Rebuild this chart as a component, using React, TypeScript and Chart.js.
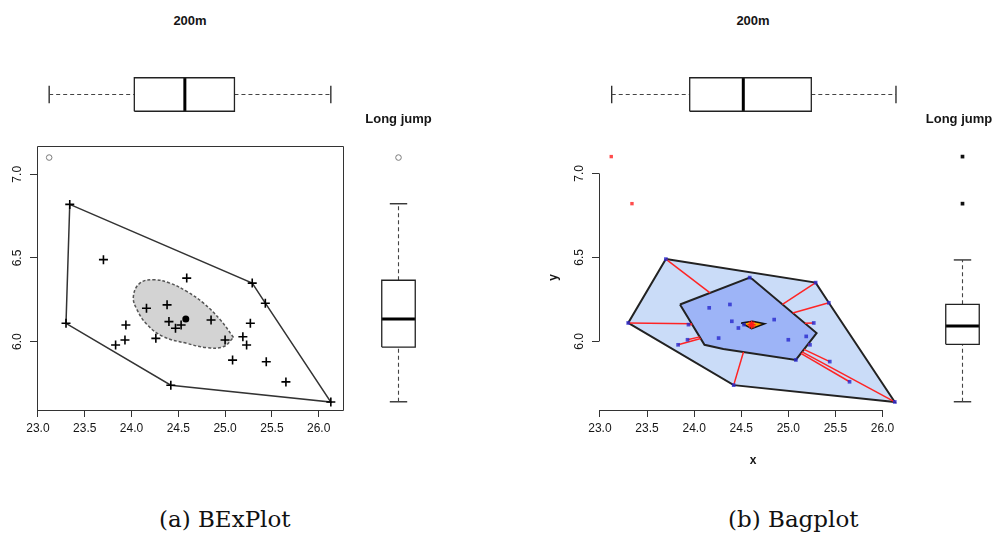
import React, { useEffect, useRef } from 'react';
import { Chart, registerables } from 'chart.js';

Chart.register(...registerables);
Chart.defaults.font.family = "'Liberation Sans', Arial, sans-serif";

// ---------------- data ----------------
const TIME_200M = [23.12, 23.30, 23.34, 23.70, 23.83, 23.93, 23.94, 24.16, 24.26, 24.38, 24.40, 24.42, 24.47, 24.53, 24.59, 24.85, 25.00, 25.08, 25.19, 25.23, 25.27, 25.29, 25.43, 25.44, 25.65, 26.13];
const LONG_JUMP = [7.10, 6.11, 6.82, 6.49, 5.98, 6.01, 6.10, 6.20, 6.02, 6.22, 6.12, 5.74, 6.08, 6.10, 6.38, 6.13, 6.01, 5.89, 6.03, 5.98, 6.11, 6.35, 6.23, 5.88, 5.76, 5.64];

const X_TICKS = [23.0, 23.5, 24.0, 24.5, 25.0, 25.5, 26.0];
const Y_TICKS = [6.0, 6.5, 7.0];
const X_LIMITS = [22.99, 26.26];
const Y_LIMITS = [5.592, 7.169];

// (a) BExPlot
const BEX_OUTLIER_IDX = [0];
const BEX_FENCE_X = [23.34, 25.29, 25.43, 26.13, 24.42, 23.30, 23.34];
const BEX_FENCE_Y = [6.82, 6.35, 6.23, 5.64, 5.74, 6.11, 6.82];
const BEX_BAG_X = [25.09, 24.95, 24.77, 24.59, 24.41, 24.24, 24.09, 24.02, 24.06, 24.17, 24.34, 24.59, 24.80, 24.98, 25.09];
const BEX_BAG_Y = [6.025, 6.13, 6.23, 6.30, 6.35, 6.37, 6.35, 6.27, 6.19, 6.10, 6.03, 5.99, 5.965, 5.97, 6.025];
const BEX_CENTER = [24.58, 6.135];
const BEX_BOX_200M = [23.12, 24.03, 24.57, 25.10, 26.13]; // min, q1, median, q3, max
const BEX_BOX_LJ = [5.641, 5.968, 6.136, 6.367, 6.824];
const BEX_LJ_OUTLIERS = [7.10];

// (b) Bagplot
const BAG_OUTLIER_IDX = [0, 2];
const BAG_LOOP_X = [23.70, 25.29, 25.43, 26.13, 24.42, 23.30, 23.70];
const BAG_LOOP_Y = [6.49, 6.35, 6.23, 5.64, 5.74, 6.11, 6.49];
const BAG_BAG_X = [23.85, 24.59, 24.62, 25.30, 25.08, 24.31, 24.11, 23.85];
const BAG_BAG_Y = [6.22, 6.38, 6.37, 6.05, 5.89, 5.955, 5.98, 6.22];
const BAG_CORE_X = [24.50, 24.62, 24.75, 24.61, 24.50];
const BAG_CORE_Y = [6.11, 6.12, 6.105, 6.076, 6.11];
const BAG_CENTER = [24.61, 6.10];
const BAG_BOX_200M = [23.125, 23.953, 24.522, 25.244, 26.143];
const BAG_BOX_LJ = [5.641, 5.983, 6.092, 6.221, 6.485];
const BAG_LJ_OUTLIERS = [7.10, 6.82];

// ---------------- styles ----------------
const BOX_LO = 0.25, BOX_HI = 0.75, CAP_LO = 0.37, CAP_HI = 0.63;
const AXIS_COLOR = '#333';
const TEXT_COLOR = '#151515';
const TICK_FONT = { family: "'Liberation Sans', Arial, sans-serif", size: 12 };

// ---------------- helpers ----------------
const xy = (xs: number[], ys: number[]) => xs.map((x, i) => ({ x, y: ys[i] }));
const lineDs = (data: any[], o: any = {}) => ({
  type: 'line', data, pointRadius: 0, tension: 0, fill: false,
  borderColor: AXIS_COLOR, borderWidth: 1.5, ...o,
});

function insidePoly(px: number, py: number, xs: number[], ys: number[]) {
  let inside = false;
  for (let i = 0, j = xs.length - 1; i < xs.length; j = i++) {
    const xi = xs[i], yi = ys[i], xj = xs[j], yj = ys[j];
    if ((yi > py) !== (yj > py) && px < ((xj - xi) * (py - yi)) / (yj - yi) + xi) inside = !inside;
  }
  return inside;
}

function towardCenter(px: number, py: number, cx: number, cy: number, xs: number[], ys: number[]) {
  const dx = cx - px, dy = cy - py;
  let best = 1;
  for (let i = 0; i < xs.length - 1; i++) {
    const ax = xs[i], ay = ys[i], ex = xs[i + 1] - ax, ey = ys[i + 1] - ay;
    const den = dx * ey - dy * ex;
    if (Math.abs(den) < 1e-12) continue;
    const t = ((ax - px) * ey - (ay - py) * ex) / den;
    const s = ((ax - px) * dy - (ay - py) * dx) / den;
    if (t >= 0 && t <= 1 && s >= 0 && s <= 1 && t < best) best = t;
  }
  return { x: px + best * dx, y: py + best * dy };
}

const rAxesPlugin = {
  id: 'rAxes',
  afterDatasetsDraw(chart: any, _a: any, opts: any) {
    const { ctx, chartArea: a, scales } = chart;
    const x = scales.x, y = scales.y;
    ctx.save();
    ctx.strokeStyle = AXIS_COLOR;
    ctx.lineWidth = 1;
    ctx.beginPath();
    if (opts.frame) {
      ctx.rect(Math.round(a.left) + 0.5, Math.round(a.top) + 0.5, Math.round(a.right - a.left), Math.round(a.bottom - a.top));
    } else {
      const xt = x.ticks, yt = y.ticks;
      const by = Math.round(a.bottom) + 0.5, lx = Math.round(a.left) + 0.5;
      ctx.moveTo(x.getPixelForValue(xt[0].value), by);
      ctx.lineTo(x.getPixelForValue(xt[xt.length - 1].value), by);
      ctx.moveTo(lx, y.getPixelForValue(yt[0].value));
      ctx.lineTo(lx, y.getPixelForValue(yt[yt.length - 1].value));
    }
    ctx.stroke();
    ctx.restore();
  },
};

function baseOptions(padding: any, scales: any, frame: boolean | null) {
  return {
    animation: false, responsive: false, maintainAspectRatio: false, events: [],
    layout: { padding, autoPadding: false },
    plugins: {
      legend: { display: false }, tooltip: { enabled: false },
      rAxes: frame === null ? { skip: true } : { frame },
    },
    scales,
  };
}

function scatterScales(yWidth: number, xHeight: number, xTitle?: string, yTitle?: string) {
  const titleFont = { family: "'Liberation Sans', Arial, sans-serif", size: 12, weight: 'bold' };
  return {
    x: {
      type: 'linear', min: X_LIMITS[0], max: X_LIMITS[1],
      afterBuildTicks: (s: any) => { s.ticks = X_TICKS.map((v) => ({ value: v })); },
      afterFit: (s: any) => { s.height = xHeight; },
      grid: { drawOnChartArea: false, drawTicks: true, tickLength: 7, color: AXIS_COLOR, lineWidth: 1 },
      border: { display: false },
      ticks: { font: TICK_FONT, color: TEXT_COLOR, padding: 4, minRotation: 0, maxRotation: 0, autoSkip: false, callback: (v: any) => Number(v).toFixed(1) },
      title: xTitle ? { display: true, text: xTitle, font: titleFont, color: TEXT_COLOR, padding: { top: 0, bottom: 7 } } : { display: false },
    },
    y: {
      type: 'linear', min: Y_LIMITS[0], max: Y_LIMITS[1],
      afterBuildTicks: (s: any) => { s.ticks = Y_TICKS.map((v) => ({ value: v })); },
      afterFit: (s: any) => { s.width = yWidth; },
      grid: { drawOnChartArea: false, drawTicks: true, tickLength: 7, color: AXIS_COLOR, lineWidth: 1 },
      border: { display: false },
      ticks: { font: TICK_FONT, color: TEXT_COLOR, padding: 4, minRotation: 90, maxRotation: 90, crossAlign: 'center', autoSkip: false, callback: (v: any) => Number(v).toFixed(1) },
      title: yTitle ? { display: true, text: yTitle, font: titleFont, color: TEXT_COLOR, padding: { top: 6, bottom: 0 } } : { display: false },
    },
  };
}

function boxplotDatasets(stats: number[], outliers: number[], horizontal: boolean, outlierStyle: any) {
  const [lo, q1, med, q3, hi] = stats;
  const p = (v: number, c: number) => (horizontal ? { x: v, y: c } : { x: c, y: v });
  const seg = (pts: any[], o: any = {}) => lineDs(pts, { borderColor: '#222', borderWidth: 1.3, ...o });
  return [
    seg([p(q1, BOX_LO), p(q3, BOX_LO), p(q3, BOX_HI), p(q1, BOX_HI), p(q1, BOX_LO)]),
    seg([p(med, BOX_LO), p(med, BOX_HI)], { borderWidth: 3, borderColor: '#000' }),
    seg([p(lo, 0.5), p(q1, 0.5)], { borderDash: [4, 3], borderWidth: 1.1, borderColor: '#444' }),
    seg([p(q3, 0.5), p(hi, 0.5)], { borderDash: [4, 3], borderWidth: 1.1, borderColor: '#444' }),
    seg([p(lo, CAP_LO), p(lo, CAP_HI)]),
    seg([p(hi, CAP_LO), p(hi, CAP_HI)]),
    { type: 'scatter', data: outliers.map((v) => p(v, 0.5)), ...outlierStyle },
  ];
}

function boxConfig(stats: number[], outliers: number[], horizontal: boolean, outlierStyle: any, padding: any) {
  const valueAxis = horizontal
    ? { type: 'linear', min: X_LIMITS[0], max: X_LIMITS[1], display: false }
    : { type: 'linear', min: Y_LIMITS[0], max: Y_LIMITS[1], display: false };
  const crossAxis = { type: 'linear', min: 0, max: 1, display: false };
  return {
    type: 'scatter',
    data: { datasets: boxplotDatasets(stats, outliers, horizontal, outlierStyle) },
    options: baseOptions(padding, horizontal ? { x: valueAxis, y: crossAxis } : { x: crossAxis, y: valueAxis }, null),
  };
}

// ---------------- chart configs ----------------
function bexScatterConfig() {
  const pts = xy(TIME_200M, LONG_JUMP);
  const regular = pts.filter((_, i) => !BEX_OUTLIER_IDX.includes(i));
  const outl = pts.filter((_, i) => BEX_OUTLIER_IDX.includes(i));
  return {
    type: 'scatter',
    data: {
      datasets: [
        { type: 'scatter', data: outl, pointStyle: 'circle', pointRadius: 2.8, pointBorderWidth: 1, pointBorderColor: '#7a7a7a', pointBackgroundColor: '#fff', order: 1 },
        { type: 'scatter', data: [{ x: BEX_CENTER[0], y: BEX_CENTER[1] }], pointStyle: 'circle', pointRadius: 3.5, pointBorderWidth: 0, pointBackgroundColor: '#000', order: 2 },
        { type: 'scatter', data: regular, pointStyle: 'cross', pointRadius: 4.5, pointBorderWidth: 1.6, pointBorderColor: '#000', order: 3 },
        lineDs(xy(BEX_BAG_X, BEX_BAG_Y), { fill: 'shape', backgroundColor: '#d3d3d3', borderColor: '#555', borderDash: [3, 2], borderWidth: 1.5, tension: 0.4, order: 4 }),
        lineDs(xy(BEX_FENCE_X, BEX_FENCE_Y), { borderColor: '#333', borderWidth: 1.5, order: 5 }),
      ],
    },
    options: baseOptions({ left: 0, top: 16, right: 17, bottom: 10 }, scatterScales(37, 40), true),
    plugins: [rAxesPlugin],
  };
}

function bagScatterConfig() {
  const pts = xy(TIME_200M, LONG_JUMP);
  const regular = pts.filter((_, i) => !BAG_OUTLIER_IDX.includes(i));
  const outl = pts.filter((_, i) => BAG_OUTLIER_IDX.includes(i));
  const whiskers = regular
    .filter((p) => !insidePoly(p.x, p.y, BAG_BAG_X, BAG_BAG_Y))
    .map((p) => lineDs([p, towardCenter(p.x, p.y, BAG_CENTER[0], BAG_CENTER[1], BAG_BAG_X, BAG_BAG_Y)], { borderColor: '#ff2424', borderWidth: 1.5, order: 30 }));
  return {
    type: 'scatter',
    data: {
      datasets: [
        { type: 'scatter', data: [{ x: BAG_CENTER[0], y: BAG_CENTER[1] }], pointStyle: 'star', pointRadius: 4, pointBorderWidth: 1.5, pointBorderColor: '#ff1a1a', order: 1 },
        { type: 'scatter', data: regular, pointStyle: 'rect', pointRadius: 2.6, pointBorderWidth: 0, pointBackgroundColor: 'rgba(40,40,205,0.8)', order: 10 },
        { type: 'scatter', data: outl, pointStyle: 'rect', pointRadius: 2.4, pointBorderWidth: 0, pointBackgroundColor: 'rgba(255,45,45,0.85)', order: 10 },
        lineDs(xy(BAG_CORE_X, BAG_CORE_Y), { fill: 'shape', backgroundColor: '#f7a200', borderColor: '#111', borderWidth: 1.5, order: 20 }),
        ...whiskers,
        lineDs(xy(BAG_BAG_X, BAG_BAG_Y), { fill: 'shape', backgroundColor: '#9db4f7', borderColor: '#222', borderWidth: 2, order: 40 }),
        lineDs(xy(BAG_LOOP_X, BAG_LOOP_Y), { fill: 'shape', backgroundColor: '#cadcf8', borderColor: '#222', borderWidth: 2, order: 50 }),
      ],
    },
    options: baseOptions({ left: 0, top: 15, right: 13, bottom: 0 }, scatterScales(59, 65, 'x', 'y'), false),
    plugins: [rAxesPlugin],
  };
}

// ---------------- components ----------------
type Rect = { left: number; top: number; width: number; height: number };

function ChartCanvas({ rect, make }: { rect: Rect; make: () => any }) {
  const ref = useRef<HTMLCanvasElement>(null);
  useEffect(() => {
    const chart = new Chart(ref.current as HTMLCanvasElement, make());
    return () => chart.destroy();
  }, []);
  return (
    <canvas
      ref={ref}
      width={rect.width}
      height={rect.height}
      style={{ position: 'absolute', left: rect.left, top: rect.top, width: rect.width, height: rect.height }}
    />
  );
}

function Label({ text, cx, cy, style }: { text: string; cx: number; cy: number; style?: any }) {
  return (
    <div
      style={{
        position: 'absolute', left: cx - 100, top: cy - 10, width: 200, height: 20, lineHeight: '20px',
        textAlign: 'center', whiteSpace: 'nowrap', color: TEXT_COLOR,
        fontFamily: "'Liberation Sans', Arial, sans-serif", fontWeight: 'bold', fontSize: 13, ...style,
      }}
    >
      {text}
    </div>
  );
}

export default function App() {
  const captionStyle: any = {
    position: 'absolute', top: 506, height: 28, lineHeight: '27px', whiteSpace: 'nowrap',
    fontFamily: "'DejaVu Serif', serif", fontSize: 23, color: '#111',
  };
  return (
    <div style={{ position: 'absolute', left: 0, top: 0, width: 997, height: 536, background: '#fff', overflow: 'hidden' }}>
      {/* (a) BExPlot */}
      <ChartCanvas rect={{ left: 0, top: 61, width: 360, height: 67 }}
        make={() => boxConfig(BEX_BOX_200M, [], true, {}, { left: 37, right: 17, top: 0, bottom: 0 })} />
      <ChartCanvas rect={{ left: 0, top: 130, width: 360, height: 330 }} make={bexScatterConfig} />
      <ChartCanvas rect={{ left: 365, top: 130, width: 67, height: 330 }}
        make={() => boxConfig(BEX_BOX_LJ, BEX_LJ_OUTLIERS, false,
          { pointStyle: 'circle', pointRadius: 2.8, pointBorderWidth: 1, pointBorderColor: '#7a7a7a', pointBackgroundColor: '#fff' },
          { left: 0, right: 0, top: 16, bottom: 50 })} />
      <Label text="200m" cx={190} cy={21} />
      <Label text="Long jump" cx={398.5} cy={119} />
      <div style={{ ...captionStyle, left: 159 }}>(a) BExPlot</div>

      {/* (b) Bagplot */}
      <ChartCanvas rect={{ left: 540, top: 61, width: 380, height: 67 }}
        make={() => boxConfig(BAG_BOX_200M, [], true, {}, { left: 59, right: 13, top: 0, bottom: 0 })} />
      <ChartCanvas rect={{ left: 540, top: 130, width: 380, height: 345 }} make={bagScatterConfig} />
      <ChartCanvas rect={{ left: 929, top: 130, width: 67, height: 330 }}
        make={() => boxConfig(BAG_BOX_LJ, BAG_LJ_OUTLIERS, false,
          { pointStyle: 'rect', pointRadius: 2.6, pointBorderWidth: 0, pointBackgroundColor: '#111' },
          { left: 0, right: 0, top: 15, bottom: 50 })} />
      <Label text="200m" cx={753} cy={21} />
      <Label text="Long jump" cx={959} cy={119} />
      <div style={{ ...captionStyle, left: 728 }}>(b) Bagplot</div>
    </div>
  );
}
